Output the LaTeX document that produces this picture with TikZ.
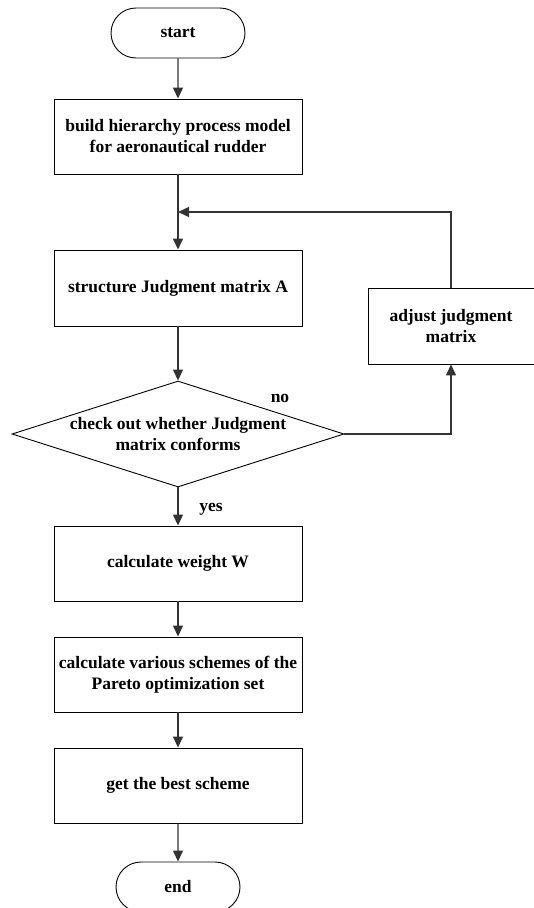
\documentclass[tikz,border=0pt]{standalone}
\usepackage{fontspec}
\setmainfont{Liberation Serif}
\usetikzlibrary{arrows.meta}
\usetikzlibrary{shapes.misc}
\usetikzlibrary{shapes.geometric}
\tikzset{
  txt/.style={font=\fontsize{17.5}{21}\selectfont\bfseries, align=center},
  box/.style={txt, draw, line width=0.9pt, minimum width=248pt, minimum height=75pt, inner sep=0pt},
  term/.style={txt, draw, line width=0.9pt, rounded rectangle, minimum height=50pt, inner sep=0pt},
  decision/.style={draw, line width=0.9pt, diamond, minimum width=332pt, minimum height=106pt, inner sep=0pt},
  flow/.style={draw=black!80, line width=1.4pt, -{Triangle[length=11pt, width=10pt]}}
}
\begin{document}
\begin{tikzpicture}[x=1pt, y=-1pt]
\useasboundingbox (0,0) rectangle (534,908);
\node[term, minimum width=134pt] (start) at (178,33) {start};
\node[box] (build) at (178,136.5) {build hierarchy process model\\for aeronautical rudder};
\coordinate (join) at (178,212);
\node[box, minimum height=76pt] (judge) at (178,288) {structure Judgment matrix A};
\node[box, minimum width=166pt, minimum height=76pt] (adjust) at (451,326) {adjust judgment\\matrix};
\node[decision, label={[txt]center:check out whether Judgment\\matrix conforms}] (check) at (178,434) {};
\node[box] (weight) at (178,563.5) {calculate weight W};
\node[box] (pareto) at (178,674.5) {calculate various schemes of the\\Pareto optimization set};
\node[box] (best) at (178,785.5) {get the best scheme};
\node[term, minimum width=124pt] (end) at (178,887) {end};
\node[txt] (no) at (280,398) {no};
\node[txt] (yes) at (211,509) {yes};
\coordinate (turn) at (451,434);

\draw[flow] (start) -- (build);
\draw[flow] (build) -- (judge);
\draw[flow] (adjust.north) |- (join);
\draw[flow] (judge) -- (check);
\draw[flow] (check.east) -- (turn) -- (adjust.south);
\draw[flow] (check) -- (weight);
\draw[flow] (weight) -- (pareto);
\draw[flow] (pareto) -- (best);
\draw[flow] (best) -- (end);
\end{tikzpicture}
\end{document}
